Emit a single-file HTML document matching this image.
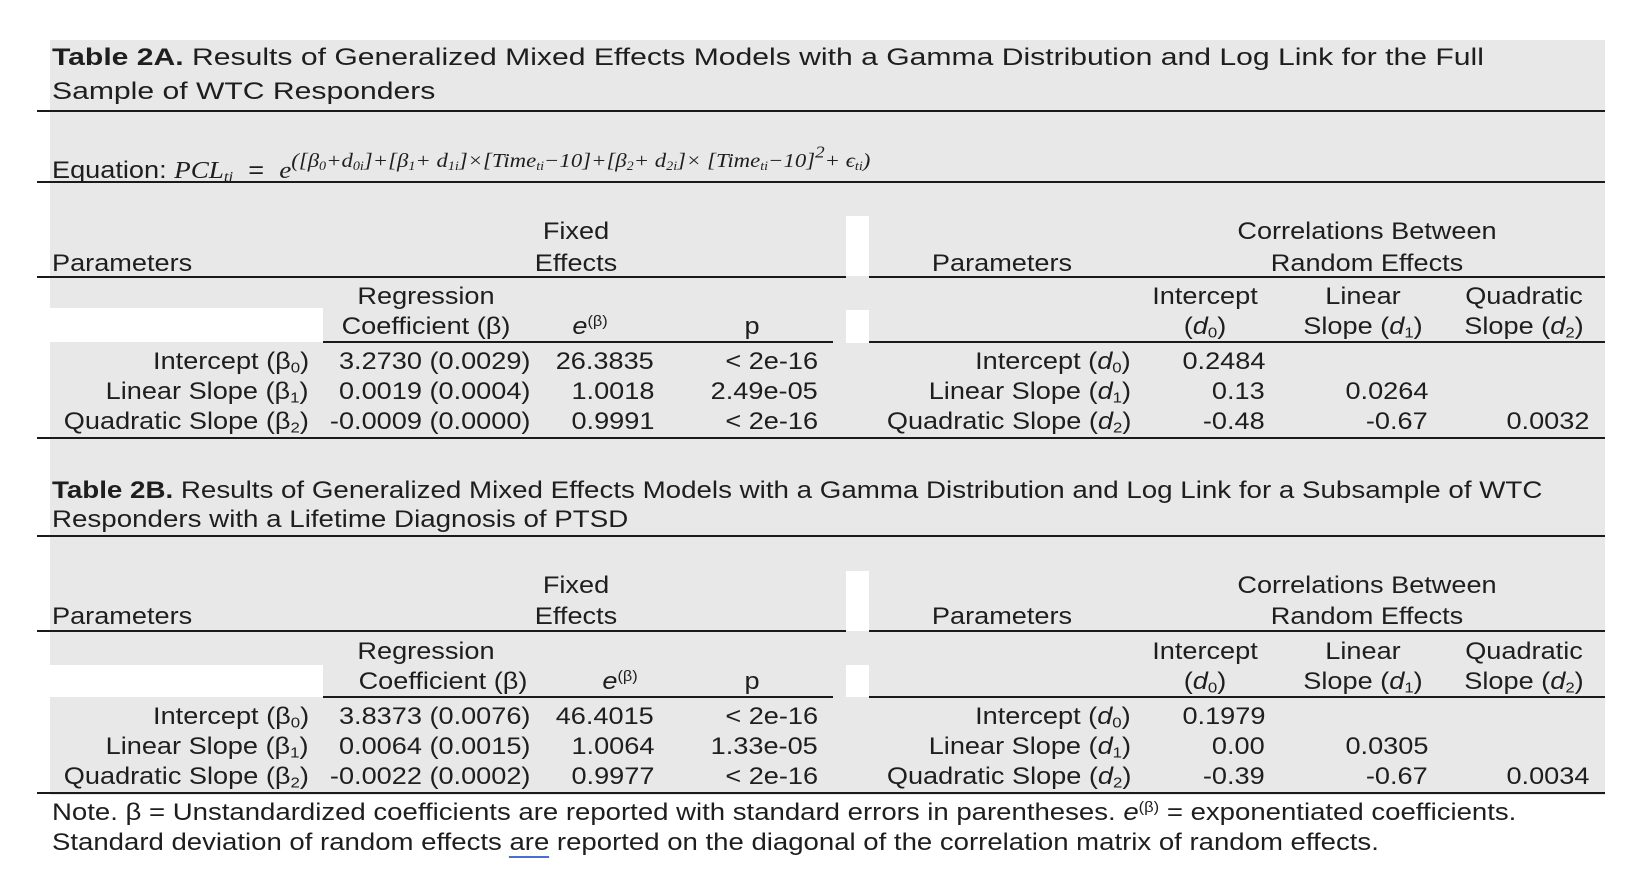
<!DOCTYPE html>
<html><head><meta charset="utf-8"><style>
body{margin:0;background:#fff;}
#pg{position:relative;width:1634px;height:870px;overflow:hidden;background:#fff;font-family:"Liberation Sans",Arial,sans-serif;font-size:24px;color:#1e1e1e;}
.bg{position:absolute;background:#e8e8e9;}
.wb{position:absolute;background:#fff;}
.rule{position:absolute;height:2px;background:#1a1a1a;}
.t{position:absolute;white-space:nowrap;line-height:1;}
.l{transform:translateY(-50%) scaleX(1.13);transform-origin:left center;}
.r{transform:translateY(-50%) scaleX(1.13);transform-origin:right center;}
.c{transform:translate(-50%,-50%) scaleX(1.13);}
.ti{transform:translateY(-50%) scaleX(1.255);transform-origin:left center;}
.ti2{transform:translateY(-50%) scaleX(1.155);transform-origin:left center;}
.nt{transform:translateY(-50%) scaleX(1.148);transform-origin:left center;}
sub{font-size:0.62em;vertical-align:-0.25em;line-height:0;}
sup{font-size:0.6em;vertical-align:0.55em;line-height:0;}
i.m{font-family:"Liberation Serif",serif;}
.eq sup{font-size:0.84em;}
</style></head><body>
<div id="pg">
<div class="bg" style="left:50px;top:40px;width:1555px;height:755px;"></div>
<div class="wb" style="left:37px;top:308px;width:286px;height:34px;"></div>
<div class="wb" style="left:846px;top:216px;width:23px;height:60px;"></div>
<div class="wb" style="left:846px;top:310px;width:23px;height:33px;"></div>
<div class="wb" style="left:37px;top:665px;width:286px;height:32px;"></div>
<div class="wb" style="left:846px;top:571px;width:23px;height:60px;"></div>
<div class="wb" style="left:846px;top:665px;width:23px;height:32px;"></div>

<!-- Table 2A -->
<div class="t ti" style="left:52px;top:58px;"><b>Table 2A.</b> Results of Generalized Mixed Effects Models with a Gamma Distribution and Log Link for the Full</div>
<div class="t ti" style="left:52px;top:92px;">Sample of WTC Responders</div>
<div class="rule" style="left:37px;top:110px;width:1568px;"></div>
<div class="t l eq" style="left:52px;top:168px;">Equation: <i class="m">PCL<sub>ti</sub></i> &nbsp;= &nbsp;<i class="m">e<sup>([β<sub>0</sub>+d<sub>0i</sub>]+[β<sub>1</sub>+ d<sub>1i</sub>]×[Time<sub>ti</sub>−10]+[β<sub>2</sub>+ d<sub>2i</sub>]× [Time<sub>ti</sub>−10]<sup>2</sup>+ ϵ<sub>ti</sub>)</sup></i></div>
<div class="rule" style="left:37px;top:181px;width:1568px;"></div>

<div class="t c" style="left:576px;top:232px;">Fixed</div>
<div class="t c" style="left:576px;top:264px;">Effects</div>
<div class="t l" style="left:52px;top:264px;">Parameters</div>
<div class="t c" style="left:1002px;top:264px;">Parameters</div>
<div class="t c" style="left:1367px;top:232px;">Correlations Between</div>
<div class="t c" style="left:1367px;top:264px;">Random Effects</div>
<div class="rule" style="left:37px;top:276px;width:809px;"></div>
<div class="rule" style="left:869px;top:276px;width:736px;"></div>

<div class="t c" style="left:426px;top:297px;">Regression</div>
<div class="t c" style="left:426px;top:327px;">Coefficient (β)</div>
<div class="t c" style="left:590px;top:327px;"><i>e</i><sup>(β)</sup></div>
<div class="t c" style="left:752px;top:327px;">p</div>
<div class="t c" style="left:1205px;top:297px;">Intercept</div>
<div class="t c" style="left:1205px;top:327px;">(<i>d</i><sub>0</sub>)</div>
<div class="t c" style="left:1363px;top:297px;">Linear</div>
<div class="t c" style="left:1363px;top:327px;">Slope (<i>d</i><sub>1</sub>)</div>
<div class="t c" style="left:1524px;top:297px;">Quadratic</div>
<div class="t c" style="left:1524px;top:327px;">Slope (<i>d</i><sub>2</sub>)</div>
<div class="rule" style="left:323px;top:341px;width:510px;"></div>
<div class="rule" style="left:869px;top:341px;width:736px;"></div>

<div class="t r" style="right:1325px;top:362px;">Intercept (β<sub>0</sub>)</div>
<div class="t r" style="right:1325px;top:392px;">Linear Slope (β<sub>1</sub>)</div>
<div class="t r" style="right:1325px;top:422px;">Quadratic Slope (β<sub>2</sub>)</div>
<div class="t r" style="right:1104px;top:362px;">3.2730 (0.0029)</div>
<div class="t r" style="right:1104px;top:392px;">0.0019 (0.0004)</div>
<div class="t r" style="right:1104px;top:422px;">-0.0009 (0.0000)</div>
<div class="t r" style="right:980px;top:362px;">26.3835</div>
<div class="t r" style="right:980px;top:392px;">1.0018</div>
<div class="t r" style="right:980px;top:422px;">0.9991</div>
<div class="t r" style="right:816px;top:362px;">&lt; 2e-16</div>
<div class="t r" style="right:816px;top:392px;">2.49e-05</div>
<div class="t r" style="right:816px;top:422px;">&lt; 2e-16</div>
<div class="t r" style="right:503px;top:362px;">Intercept (<i>d</i><sub>0</sub>)</div>
<div class="t r" style="right:503px;top:392px;">Linear Slope (<i>d</i><sub>1</sub>)</div>
<div class="t r" style="right:503px;top:422px;">Quadratic Slope (<i>d</i><sub>2</sub>)</div>
<div class="t r" style="right:369px;top:362px;">0.2484</div>
<div class="t r" style="right:369px;top:392px;">0.13</div>
<div class="t r" style="right:369px;top:422px;">-0.48</div>
<div class="t r" style="right:206px;top:392px;">0.0264</div>
<div class="t r" style="right:206px;top:422px;">-0.67</div>
<div class="t r" style="right:45px;top:422px;">0.0032</div>
<div class="rule" style="left:37px;top:437px;width:1568px;"></div>

<!-- Table 2B -->
<div class="t ti2" style="left:52px;top:491px;"><b>Table 2B.</b> Results of Generalized Mixed Effects Models with a Gamma Distribution and Log Link for a Subsample of WTC</div>
<div class="t ti2" style="left:52px;top:520px;">Responders with a Lifetime Diagnosis of PTSD</div>
<div class="rule" style="left:37px;top:535px;width:1568px;"></div>

<div class="t c" style="left:576px;top:586px;">Fixed</div>
<div class="t c" style="left:576px;top:617px;">Effects</div>
<div class="t l" style="left:52px;top:617px;">Parameters</div>
<div class="t c" style="left:1002px;top:617px;">Parameters</div>
<div class="t c" style="left:1367px;top:586px;">Correlations Between</div>
<div class="t c" style="left:1367px;top:617px;">Random Effects</div>
<div class="rule" style="left:37px;top:630px;width:809px;"></div>
<div class="rule" style="left:869px;top:630px;width:736px;"></div>

<div class="t c" style="left:426px;top:652px;">Regression</div>
<div class="t c" style="left:443px;top:682px;">Coefficient (β)</div>
<div class="t c" style="left:620px;top:682px;"><i>e</i><sup>(β)</sup></div>
<div class="t c" style="left:752px;top:682px;">p</div>
<div class="t c" style="left:1205px;top:652px;">Intercept</div>
<div class="t c" style="left:1205px;top:682px;">(<i>d</i><sub>0</sub>)</div>
<div class="t c" style="left:1363px;top:652px;">Linear</div>
<div class="t c" style="left:1363px;top:682px;">Slope (<i>d</i><sub>1</sub>)</div>
<div class="t c" style="left:1524px;top:652px;">Quadratic</div>
<div class="t c" style="left:1524px;top:682px;">Slope (<i>d</i><sub>2</sub>)</div>
<div class="rule" style="left:323px;top:696px;width:510px;"></div>
<div class="rule" style="left:869px;top:696px;width:736px;"></div>

<div class="t r" style="right:1325px;top:717px;">Intercept (β<sub>0</sub>)</div>
<div class="t r" style="right:1325px;top:747px;">Linear Slope (β<sub>1</sub>)</div>
<div class="t r" style="right:1325px;top:777px;">Quadratic Slope (β<sub>2</sub>)</div>
<div class="t r" style="right:1104px;top:717px;">3.8373 (0.0076)</div>
<div class="t r" style="right:1104px;top:747px;">0.0064 (0.0015)</div>
<div class="t r" style="right:1104px;top:777px;">-0.0022 (0.0002)</div>
<div class="t r" style="right:980px;top:717px;">46.4015</div>
<div class="t r" style="right:980px;top:747px;">1.0064</div>
<div class="t r" style="right:980px;top:777px;">0.9977</div>
<div class="t r" style="right:816px;top:717px;">&lt; 2e-16</div>
<div class="t r" style="right:816px;top:747px;">1.33e-05</div>
<div class="t r" style="right:816px;top:777px;">&lt; 2e-16</div>
<div class="t r" style="right:503px;top:717px;">Intercept (<i>d</i><sub>0</sub>)</div>
<div class="t r" style="right:503px;top:747px;">Linear Slope (<i>d</i><sub>1</sub>)</div>
<div class="t r" style="right:503px;top:777px;">Quadratic Slope (<i>d</i><sub>2</sub>)</div>
<div class="t r" style="right:369px;top:717px;">0.1979</div>
<div class="t r" style="right:369px;top:747px;">0.00</div>
<div class="t r" style="right:369px;top:777px;">-0.39</div>
<div class="t r" style="right:206px;top:747px;">0.0305</div>
<div class="t r" style="right:206px;top:777px;">-0.67</div>
<div class="t r" style="right:45px;top:777px;">0.0034</div>
<div class="rule" style="left:37px;top:792px;width:1568px;"></div>

<div class="t nt" style="left:52px;top:813px;">Note. β = Unstandardized coefficients are reported with standard errors in parentheses. <i>e</i><sup>(β)</sup> = exponentiated coefficients.</div>
<div class="t nt" style="left:52px;top:843px;">Standard deviation of random effects <span style="border-bottom:2px solid #4a6fd0;">are</span> reported on the diagonal of the correlation matrix of random effects.</div>
</div>
</body></html>
